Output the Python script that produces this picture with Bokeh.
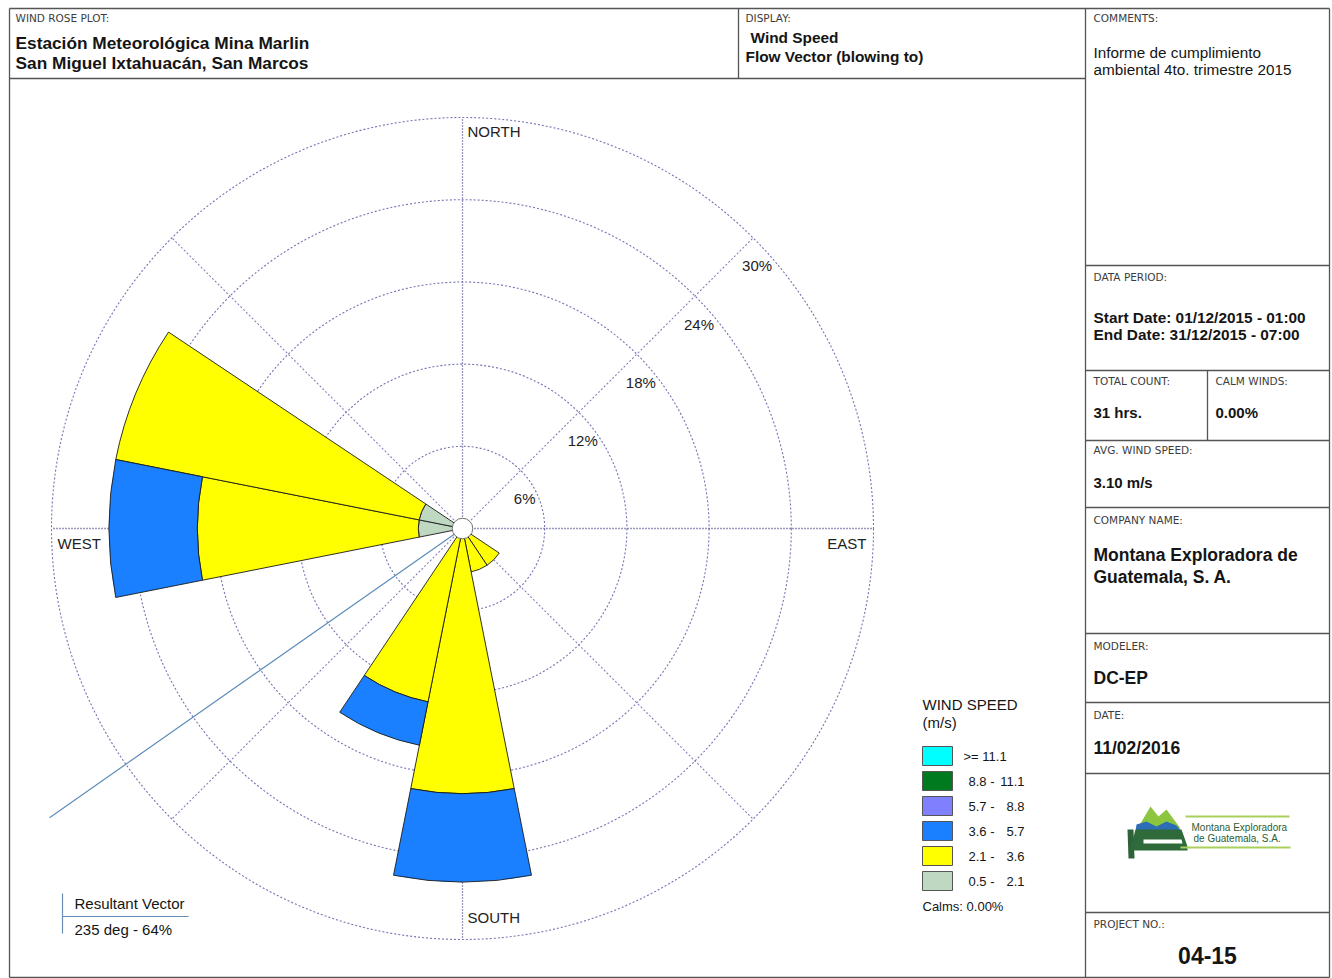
import numpy as np
from bokeh.plotting import figure
from bokeh.models import Range1d, ColumnDataSource
from bokeh.embed import file_html
from bokeh.resources import INLINE
from bokeh.core.properties import value

# ---------------------------------------------------------------- data
directions = ["N", "NNE", "NE", "ENE", "E", "ESE", "SE", "SSE",
              "S", "SSW", "SW", "WSW", "W", "WNW", "NW", "NNW"]
bearings = [0.0, 22.5, 45.0, 67.5, 90.0, 112.5, 135.0, 157.5,
            180.0, 202.5, 225.0, 247.5, 270.0, 292.5, 315.0, 337.5]

speed_bins = ["0.5 - 2.1", "2.1 - 3.6", "3.6 - 5.7", "5.7 - 8.8", "8.8 - 11.1", ">= 11.1"]
bin_colors = ["#BFD8C2", "#FFFF00", "#1A80FF", "#8080FF", "#007A1E", "#00FFFF"]

# hours per direction (flow vector, blowing to) for each speed class
hours_05_21 = [0, 0, 0, 0, 0, 0, 0, 0, 0, 0, 0, 0, 1, 1, 0, 0]
hours_21_36 = [0, 0, 0, 0, 0, 0, 1, 1, 6, 4, 0, 0, 5, 7, 0, 0]
hours_36_57 = [0, 0, 0, 0, 0, 0, 0, 0, 2, 1, 0, 0, 2, 0, 0, 0]
hours_57_88 = [0, 0, 0, 0, 0, 0, 0, 0, 0, 0, 0, 0, 0, 0, 0, 0]
hours_88_111 = [0, 0, 0, 0, 0, 0, 0, 0, 0, 0, 0, 0, 0, 0, 0, 0]
hours_111 = [0, 0, 0, 0, 0, 0, 0, 0, 0, 0, 0, 0, 0, 0, 0, 0]
total_hours = 31

ring_pcts = [6, 12, 18, 24, 30]
resultant_dir = 235
resultant_pct = 64
calms_pct = 0.00

# ---------------------------------------------------------------- page geometry
W, H = 1332, 978
CX, CY = 462, 528            # rose centre on the page (px)
PX_PER_PCT = 411 / 30.0      # radial scale of the rose
FONT = "Liberation Sans"
CAPS_FONT = "DejaVu Sans"


def X(px):
    return (px - CX) / PX_PER_PCT


def Y(py):
    return (CY - py) / PX_PER_PCT


p = figure(width=W, height=H, output_backend="svg", toolbar_location=None,
           x_range=Range1d(X(0), X(W)), y_range=Range1d(Y(H), Y(0)),
           x_axis_location=None, y_axis_location=None, min_border=0,
           outline_line_color=None, background_fill_color="white",
           border_fill_color="white")
p.grid.visible = False


def txt(px, py, s, size=15, bold=False, color="#151515", align="left",
        baseline="middle", font=FONT):
    p.text(x=[X(px)], y=[Y(py)], text=[s], text_font=value(font),
           text_font_size=f"{size}px", text_font_style="bold" if bold else "normal",
           text_color=color, text_align=align, text_baseline=baseline)


def caption(px, py, s):
    txt(px, py, s, 10.5, color="#3C3C3C", font=CAPS_FONT)


# ---------------------------------------------------------------- report frame
frame = [
    (9, 8, 1329, 8), (9, 8, 9, 977), (1329, 8, 1329, 977), (9, 977, 1329, 977),
    (9, 78, 1085, 78), (738, 8, 738, 78), (1085, 8, 1085, 977),
    (1085, 265, 1329, 265), (1085, 370, 1329, 370), (1085, 440, 1329, 440),
    (1085, 507, 1329, 507), (1085, 633, 1329, 633), (1085, 702, 1329, 702),
    (1085, 773, 1329, 773), (1085, 912, 1329, 912), (1207, 370, 1207, 440),
]
p.segment(x0=[X(a) for a, b, c, d in frame], y0=[Y(b) for a, b, c, d in frame],
          x1=[X(c) for a, b, c, d in frame], y1=[Y(d) for a, b, c, d in frame],
          line_color="#555555", line_width=1.3)

# ---------------------------------------------------------------- polar grid
rmax = ring_pcts[-1]
p.circle(x=[0] * len(ring_pcts), y=[0] * len(ring_pcts), radius=ring_pcts,
         fill_color=None, line_color="#7474B4", line_dash="2 2", line_width=1.1)

diag = np.radians([45, 135, 225, 315])
p.segment(x0=0, y0=0, x1=rmax * np.sin(diag), y1=rmax * np.cos(diag),
          line_color="#8282C0", line_dash="2 2", line_width=1.1)
axes4 = np.radians([0, 90, 180, 270])
p.segment(x0=0, y0=0, x1=rmax * np.sin(axes4), y1=rmax * np.cos(axes4),
          line_color="#34347E", line_dash="1 2", line_width=1.3)

# ring labels sit just below the NE spoke
lab_off = 28 / PX_PER_PCT
for r in ring_pcts:
    a = np.radians(45)
    p.text(x=[r * np.sin(a) + 4 / PX_PER_PCT], y=[r * np.cos(a) - lab_off], text=[f"{r}%"],
           text_font=value(FONT), text_font_size="15px", text_color="#222222",
           text_align="center", text_baseline="middle")

# compass labels
txt(CX + 5, 131, "NORTH", 15, color="#222222")
txt(CX + 5, 917, "SOUTH", 15, color="#222222")
txt(57, 543, "WEST", 15, color="#222222")
txt(866, 543, "EAST", 15, color="#222222", align="right")

# ---------------------------------------------------------------- petals
half = 11.25
base = np.zeros(len(bearings))
brg = np.array(bearings)
for hrs, color in zip([hours_05_21, hours_21_36, hours_36_57, hours_57_88, hours_88_111, hours_111],
                      bin_colors):
    pct = np.array(hrs, dtype=float) / total_hours * 100.0
    top = base + pct
    m = pct > 0
    if m.any():
        src = ColumnDataSource(dict(
            inner=base[m], outer=top[m],
            start=np.radians(90 - (brg[m] + half)), end=np.radians(90 - (brg[m] - half))))
        p.annular_wedge(x=0, y=0, inner_radius="inner", outer_radius="outer",
                        start_angle="start", end_angle="end", direction="anticlock",
                        source=src, fill_color=color, line_color="#1A1A1A", line_width=0.9)
    base = top

# resultant vector
rv = np.radians(resultant_dir)
rv_len = 36.8
p.segment(x0=0, y0=0, x1=rv_len * np.sin(rv), y1=rv_len * np.cos(rv),
          line_color="#5E8CB8", line_width=1.2)

# calm circle
p.circle(x=[0], y=[0], radius=0.75, fill_color="white", line_color="#707070", line_width=1)

# ---------------------------------------------------------------- resultant caption
p.segment(x0=[X(62), X(62)], y0=[Y(893), Y(916)], x1=[X(62), X(188)], y1=[Y(933), Y(916)],
          line_color="#6A8FB5", line_width=1.2)
txt(74, 903, "Resultant Vector", 15)
txt(74, 929, f"{resultant_dir} deg - {resultant_pct}%", 15)

# ---------------------------------------------------------------- speed legend
txt(922, 704, "WIND SPEED", 15)
txt(922, 722, "(m/s)", 15)
sw_top = 746
sw_step = 25
order = list(range(len(speed_bins)))[::-1]
lx0, lx1 = X(922), X(952)
tops = [Y(sw_top + k * sw_step) for k in range(len(order))]
bots = [Y(sw_top + k * sw_step + 19) for k in range(len(order))]
p.quad(left=lx0, right=lx1, top=tops, bottom=bots,
       fill_color=[bin_colors[i] for i in order], line_color="#555555", line_width=1)
for k, i in enumerate(order):
    lab = speed_bins[i]
    yc = sw_top + k * sw_step + 10
    if lab.startswith(">="):
        txt(963, yc, lab, 13)
    else:
        lo, hi = lab.split(" - ")
        txt(968, yc, f"{lo} -", 13)
        txt(1024, yc, hi, 13, align="right")
txt(922, 906, f"Calms: {calms_pct:.2f}%", 13)

# ---------------------------------------------------------------- header
caption(15, 17, "WIND ROSE PLOT:")
txt(15, 42, "Estación Meteorológica Mina Marlin", 17.3, bold=True)
txt(15, 62, "San Miguel Ixtahuacán, San Marcos", 17.3, bold=True)
caption(745, 17, "DISPLAY:")
txt(750, 37, "Wind Speed", 15.4, bold=True)
txt(745, 56, "Flow Vector (blowing to)", 15.4, bold=True)

# ---------------------------------------------------------------- side panel
caption(1093, 17, "COMMENTS:")
txt(1093, 52, "Informe de cumplimiento", 15.3)
txt(1093, 69, "ambiental 4to. trimestre 2015", 15.3)
caption(1093, 276, "DATA PERIOD:")
txt(1093, 317, "Start Date: 01/12/2015 - 01:00", 15.4, bold=True)
txt(1093, 334, "End Date: 31/12/2015 - 07:00", 15.4, bold=True)
caption(1093, 380, "TOTAL COUNT:")
caption(1215, 380, "CALM WINDS:")
txt(1093, 412, f"{total_hours} hrs.", 15, bold=True)
txt(1215, 412, f"{calms_pct:.2f}%", 15, bold=True)
caption(1093, 449, "AVG. WIND SPEED:")
txt(1093, 482, "3.10 m/s", 15, bold=True)
caption(1093, 519, "COMPANY NAME:")
txt(1093, 554, "Montana Exploradora de", 17.5, bold=True)
txt(1093, 576, "Guatemala, S. A.", 17.5, bold=True)
caption(1093, 645, "MODELER:")
txt(1093, 677, "DC-EP", 17.5, bold=True)
caption(1093, 714, "DATE:")
txt(1093, 747, "11/02/2016", 17.5, bold=True)
caption(1093, 923, "PROJECT NO.:")
txt(1207, 955, "04-15", 23, bold=True, align="center")

# ---------------------------------------------------------------- company logo
def poly(pts, color):
    p.patch(x=[X(a) for a, b in pts], y=[Y(b) for a, b in pts],
            fill_color=color, line_color=None)


poly([(1127, 829), (1133, 829), (1134, 858), (1128, 858)], "#2E6238")
poly([(1137, 828), (1150, 806), (1158, 816), (1166, 809), (1180, 828)], "#8CC63F")
poly([(1136, 824), (1146, 821), (1156, 826), (1166, 821), (1176, 825), (1181, 831), (1135, 831)], "#2C6DB5")
poly([(1130, 848), (1135, 829), (1181, 829), (1187, 846), (1187, 850), (1130, 850)], "#2F6A3B")
poly([(1143, 839), (1181, 839), (1182, 843), (1143, 843)], "white")
p.segment(x0=[X(1185), X(1180)], y0=[Y(816), Y(847)], x1=[X(1289), X(1290)], y1=[Y(816), Y(847)],
          line_color="#A9CF5A", line_width=2.2)
txt(1191, 827, "Montana Exploradora", 10, color="#2C5E34")
txt(1193, 838, "de Guatemala, S.A.", 10, color="#2C5E34")

open("out.html", "w").write(file_html(p, INLINE))
